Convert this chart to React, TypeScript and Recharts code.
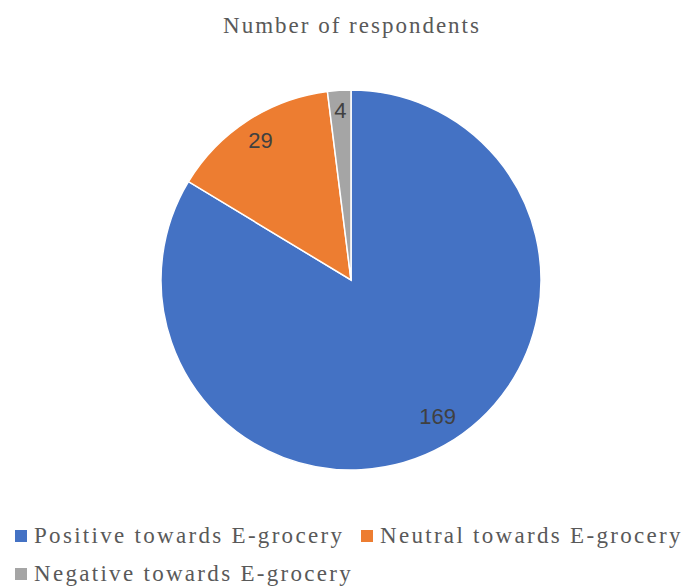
import { PieChart, Pie, Cell, Legend } from "recharts";

const categories = [
  "Positive towards E-grocery",
  "Neutral towards E-grocery",
  "Negative towards E-grocery",
];
const respondents = [169, 29, 4];
const colors = ["#4472C4", "#ED7D31", "#A5A5A5"];
// where each value label sits: share of the radius, and a small turn off the mid angle
const labelRadius = [0.85, 0.875, 0.895];
const labelTurn = [3, 0, 0];

const data = categories.map((name, i) => ({ name, value: respondents[i] }));

const RAD = Math.PI / 180;
const serif = "'Liberation Serif', 'Times New Roman', serif";

const renderLabel = (props: any) => {
  const { cx, cy, midAngle, outerRadius, index, value } = props;
  const r = outerRadius * labelRadius[index];
  const a = (midAngle + labelTurn[index]) * RAD;
  const x = cx + r * Math.cos(-a);
  const y = cy + r * Math.sin(-a);
  return (
    <text
      x={x}
      y={y}
      fill="#404040"
      fontSize={22}
      fontFamily="'Liberation Sans', Arial, sans-serif"
      textAnchor="middle"
      dominantBaseline="central"
    >
      {value}
    </text>
  );
};

const renderLegend = () => (
  <div style={{ display: "flex", flexWrap: "wrap", paddingLeft: 15, width: 700 }}>
    {categories.map((name, i) => (
      <div
        key={name}
        style={{ width: 346, height: 38, display: "flex", alignItems: "flex-start" }}
      >
        <span
          style={{
            width: 12,
            height: 12,
            background: colors[i],
            marginTop: 6,
            marginRight: 7,
            flexShrink: 0,
          }}
        />
        <span
          style={{
            fontFamily: serif,
            fontSize: 23,
            lineHeight: "23px",
            letterSpacing: 2.3,
            color: "#595959",
            whiteSpace: "nowrap",
          }}
        >
          {name}
        </span>
      </div>
    ))}
  </div>
);

export default function App() {
  return (
    <div style={{ position: "absolute", left: 0, top: 0, width: 684, height: 587, background: "#fff", overflow: "hidden" }}>
      <div
        style={{
          position: "absolute",
          left: 0,
          top: 14,
          width: 704,
          textAlign: "center",
          fontFamily: serif,
          fontSize: 23,
          lineHeight: "23px",
          letterSpacing: 2,
          color: "#595959",
          zIndex: 1,
        }}
      >
        Number of respondents
      </div>
      <PieChart width={684} height={587} margin={{ top: 0, right: 0, bottom: 0, left: 0 }}>
        <Pie
          data={data}
          dataKey="value"
          nameKey="name"
          cx={351}
          cy={280}
          outerRadius={190}
          startAngle={90}
          endAngle={-270}
          stroke="#fff"
          strokeWidth={1.5}
          label={renderLabel}
          labelLine={false}
          isAnimationActive={false}
        >
          {data.map((d, i) => (
            <Cell key={d.name} fill={colors[i]} />
          ))}
        </Pie>
        <Legend
          content={renderLegend}
          wrapperStyle={{ position: "absolute", left: 0, top: 524, width: 684, overflow: "visible" }}
        />
      </PieChart>
    </div>
  );
}
